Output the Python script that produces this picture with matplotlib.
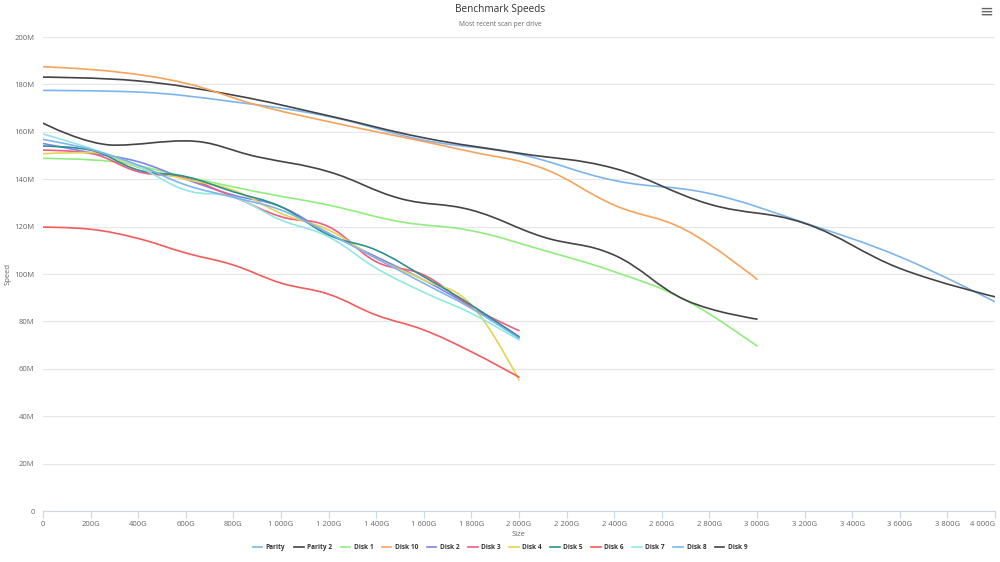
import matplotlib
matplotlib.use("Agg")
import matplotlib.pyplot as plt
from matplotlib.path import Path
from matplotlib.patches import PathPatch
from matplotlib.lines import Line2D

plt.rcParams['font.family'] = ['Open Sans', 'DejaVu Sans']

# speeds in MB/s, sampled every 10% of each drive's size (GB)
names = ['Parity', 'Parity 2', 'Disk 1', 'Disk 10', 'Disk 2', 'Disk 3',
         'Disk 4', 'Disk 5', 'Disk 6', 'Disk 7', 'Disk 8', 'Disk 9']
sizes = [4000, 4000, 3000, 3000, 2000, 2000, 2000, 2000, 2000, 2000, 2000, 3000]
colors = ['#7cb5ec', '#434348', '#90ed7d', '#f7a35c', '#8085e9', '#f15c80',
          '#e4d354', '#2b908f', '#f45b5b', '#91e8e1', '#7cb5ec', '#434348']

parity = [177.5, 176.8, 172.7, 166.5, 156.5, 150.6, 139.5, 134.0, 121.6, 107.3, 88.3]
parity2 = [183.1, 181.5, 175.5, 166.8, 157.5, 151.0, 144.6, 129.5, 121.4, 102.4, 90.4]
disk1 = [148.8, 147.4, 141.1, 134.7, 129.1, 122.1, 118.3, 110.1, 101.0, 89.0, 69.6]
disk10 = [187.5, 185.4, 180.5, 171.3, 164.3, 158.0, 151.6, 144.6, 129.1, 118.6, 97.8]
disk2 = [155.1, 151.2, 147.4, 140.0, 133.3, 128.4, 117.2, 107.3, 97.5, 86.2, 73.7]
disk3 = [152.3, 150.9, 143.2, 140.4, 132.6, 124.2, 120.0, 105.2, 99.6, 86.2, 76.1]
disk4 = [150.8, 151.3, 145.0, 140.0, 135.4, 125.6, 118.6, 106.6, 97.5, 87.0, 55.3]
disk5 = [154.0, 152.3, 143.9, 141.1, 134.7, 128.4, 116.5, 110.1, 98.9, 86.9, 73.3]
disk6 = [119.8, 118.9, 115.0, 108.9, 103.8, 96.2, 91.5, 82.7, 76.4, 67.2, 56.5]
disk7 = [159.1, 153.0, 145.3, 135.4, 132.4, 122.8, 115.7, 102.5, 92.3, 83.4, 72.2]
disk8 = [156.8, 152.6, 146.0, 137.6, 132.4, 127.0, 117.2, 106.6, 96.1, 85.5, 72.9]
disk9 = [163.7, 154.4, 156.2, 149.5, 143.2, 131.9, 127.0, 115.7, 108.0, 89.0, 81.0]
speeds = [parity, parity2, disk1, disk10, disk2, disk3, disk4, disk5, disk6, disk7, disk8, disk9]

x_ticks = list(range(0, 4001, 200))
y_ticks = list(range(0, 201, 20))


def spline_path(xs, ys, smoothing=1.5):
    # highcharts-like spline: cubic bezier through every point
    denom = smoothing + 1
    n = len(xs)
    left = [None] * n
    right = [None] * n
    for i in range(n):
        if i == 0 or i == n - 1:
            left[i] = right[i] = (xs[i], ys[i])
            continue
        lx = (smoothing * xs[i] + xs[i - 1]) / denom
        ly = (smoothing * ys[i] + ys[i - 1]) / denom
        rx = (smoothing * xs[i] + xs[i + 1]) / denom
        ry = (smoothing * ys[i] + ys[i + 1]) / denom
        if rx != lx:
            corr = (ry - ly) * (rx - xs[i]) / (rx - lx) + ys[i] - ry
            ly += corr
            ry += corr
        if ly > max(ys[i - 1], ys[i]):
            ly = max(ys[i - 1], ys[i])
            ry = 2 * ys[i] - ly
        elif ly < min(ys[i - 1], ys[i]):
            ly = min(ys[i - 1], ys[i])
            ry = 2 * ys[i] - ly
        if ry > max(ys[i + 1], ys[i]):
            ry = max(ys[i + 1], ys[i])
            ly = 2 * ys[i] - ry
        elif ry < min(ys[i + 1], ys[i]):
            ry = min(ys[i + 1], ys[i])
            ly = 2 * ys[i] - ry
        left[i] = (lx, ly)
        right[i] = (rx, ry)
    verts = [(xs[0], ys[0])]
    codes = [Path.MOVETO]
    for i in range(1, n):
        verts += [right[i - 1], left[i], (xs[i], ys[i])]
        codes += [Path.CURVE4] * 3
    return Path(verts, codes)


fig = plt.figure(figsize=(10, 5.62), dpi=100)
ax = fig.add_axes([0.043, 0.0907, 0.952, 0.8433])

for name, size, color, vals in zip(names, sizes, colors, speeds):
    xs = [size * k / (len(vals) - 1) for k in range(len(vals))]
    ax.add_patch(PathPatch(spline_path(xs, vals), fill=False, edgecolor=color,
                           lw=1.2, capstyle='round', joinstyle='round'))

ax.set_xlim(0, 4000)
ax.set_ylim(0, 200)
ax.set_xticks(x_ticks)
ax.set_xticklabels(['0' if v == 0 else '{:,}G'.format(v).replace(',', ' ') for v in x_ticks])
ax.set_yticks(y_ticks)
ax.set_yticklabels(['0' if v == 0 else '%dM' % v for v in y_ticks])
ax.tick_params(axis='x', colors='#ccd6eb', labelcolor='#666666', labelsize=5.5,
               length=5, width=0.8, pad=2)
ax.tick_params(axis='y', length=0, labelcolor='#666666', labelsize=5.5, pad=6)
ax.get_xticklabels()[-1].set_ha('right')
ax.grid(axis='y', color='#e6e6e6', lw=0.8)
ax.set_axisbelow(True)
for s in ['top', 'right', 'left']:
    ax.spines[s].set_visible(False)
ax.spines['bottom'].set_color('#ccd6eb')
ax.spines['bottom'].set_linewidth(0.8)

ax.set_xlabel('Size', fontsize=5.5, color='#666666', labelpad=2)
ax.set_ylabel('Speed', fontsize=5.5, color='#666666')
ax.yaxis.set_label_coords(-0.033, 0.5)

fig.text(0.5, 0.983, 'Benchmark Speeds', ha='center', va='center', fontsize=7.2, color='#333333')
fig.text(0.5, 0.957, 'Most recent scan per drive', ha='center', va='center', fontsize=4.8, color='#666666')
fig.text(0.986, 0.979, '\u2261', ha='center', va='center', fontsize=12, color='#666666',
         family='DejaVu Sans')

handles = [Line2D([], [], color=c, lw=1.2) for c in colors]
leg = fig.legend(handles, names, loc='center', bbox_to_anchor=(0.5, 0.025), ncol=12,
                 frameon=False, handlelength=1.5, handletextpad=0.5, columnspacing=1.3,
                 prop={'size': 4.7, 'weight': 'bold'})
for t in leg.get_texts():
    t.set_color('#333333')

fig.savefig('out.png', dpi=100)
